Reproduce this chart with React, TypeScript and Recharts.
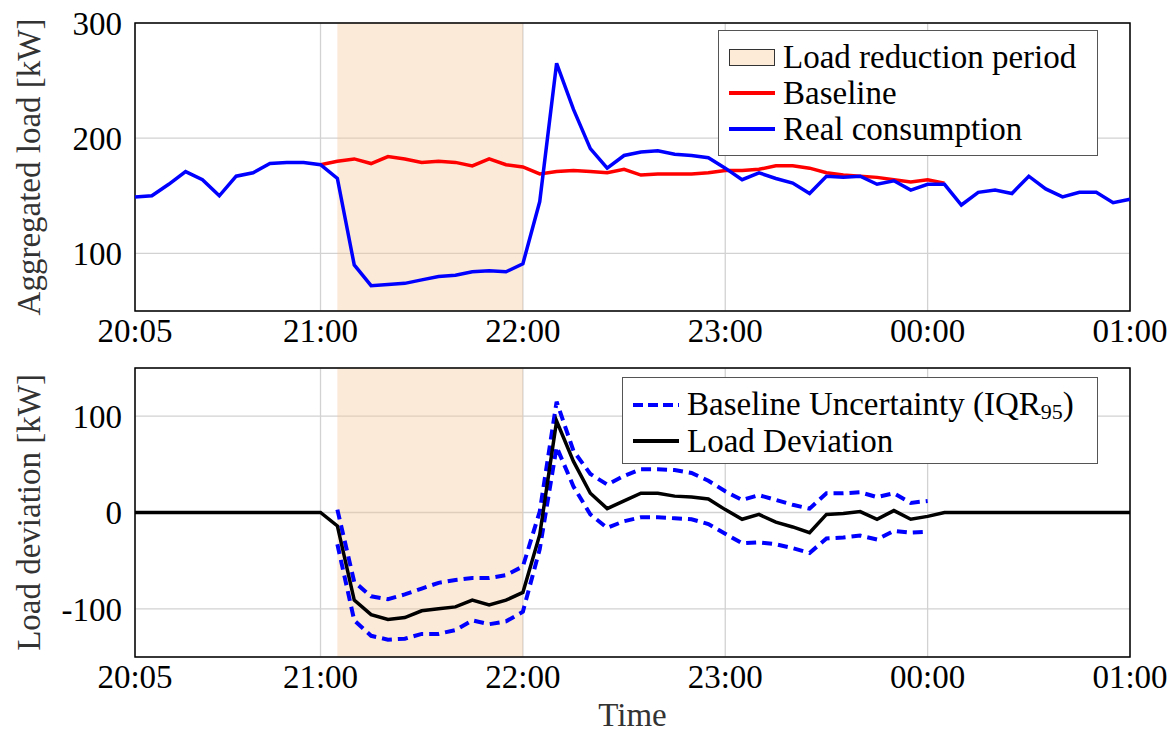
import React from 'react';
import {
  LineChart,
  Line,
  XAxis,
  YAxis,
  CartesianGrid,
  ReferenceArea,
} from 'recharts';

const FONT = '"Liberation Serif", "Times New Roman", serif';

// 5-minute steps, 20:05 -> 01:00
const times = [
  '20:05', '20:10', '20:15', '20:20', '20:25', '20:30', '20:35', '20:40', '20:45', '20:50', '20:55', '21:00',
  '21:05', '21:10', '21:15', '21:20', '21:25', '21:30', '21:35', '21:40', '21:45', '21:50', '21:55', '22:00',
  '22:05', '22:10', '22:15', '22:20', '22:25', '22:30', '22:35', '22:40', '22:45', '22:50', '22:55', '23:00',
  '23:05', '23:10', '23:15', '23:20', '23:25', '23:30', '23:35', '23:40', '23:45', '23:50', '23:55', '00:00',
  '00:05', '00:10', '00:15', '00:20', '00:25', '00:30', '00:35', '00:40', '00:45', '00:50', '00:55', '01:00',
];

const xTicks = ['20:05', '21:00', '22:00', '23:00', '00:00', '01:00'];
const topYTicks = [100, 200, 300];
const bottomYTicks = [-100, 0, 100];

const realConsumption = [
  149, 150, 160, 171, 164, 150, 167, 170, 178, 179, 179, 177,
  165, 90, 72, 73, 74, 77, 80, 81, 84, 85, 84, 91,
  145, 265, 225, 191, 174, 185, 188, 189, 186, 185, 183, 174,
  164, 170, 165, 161, 152, 167, 166, 167, 160, 163, 155, 160,
  160, 142, 153, 155, 152, 167, 156, 149, 153, 153, 144, 147,
];

const baseline = [
  null, null, null, null, null, null, null, null, null, null, null, 177,
  180, 182, 178, 184, 182, 179, 180, 179, 176, 182, 177, 175,
  169, 171, 172, 171, 170, 173, 168, 169, 169, 169, 170, 172,
  172, 173, 176, 176, 174, 170, 168, 167, 166, 164, 162, 164,
  161, null, null, null, null, null, null, null, null, null, null, null,
];

const loadDeviation = [
  0, 0, 0, 0, 0, 0, 0, 0, 0, 0, 0, 0,
  -14, -91, -106, -111, -109, -102, -100, -98, -91, -96, -91, -83,
  -23, 95, 53, 20, 4, 12, 20, 20, 17, 16, 14, 3,
  -7, -2, -10, -15, -21, -2, -1, 1, -7, 2, -7, -4,
  0, 0, 0, 0, 0, 0, 0, 0, 0, 0, 0, 0,
];

const iqrUpper = [
  null, null, null, null, null, null, null, null, null, null, null, null,
  3, -72, -87, -90, -85, -79, -73, -70, -68, -68, -65, -56,
  1, 115, 64, 40, 29, 38, 45, 45, 44, 41, 33, 22,
  13, 18, 13, 8, 4, 20, 20, 21, 16, 20, 10, 12,
  null, null, null, null, null, null, null, null, null, null, null, null,
];

const iqrLower = [
  null, null, null, null, null, null, null, null, null, null, null, null,
  -33, -112, -128, -132, -131, -126, -126, -122, -112, -116, -113, -103,
  -38, 68, 27, -2, -16, -9, -5, -5, -6, -7, -12, -22,
  -32, -31, -33, -37, -42, -27, -26, -24, -28, -19, -21, -20,
  null, null, null, null, null, null, null, null, null, null, null, null,
];

const reductionStart = '21:05';
const reductionEnd = '22:00';

const rows = times.map((t, i) => ({
  time: t,
  real: realConsumption[i],
  baseline: baseline[i],
  deviation: loadDeviation[i],
  upper: iqrUpper[i],
  lower: iqrLower[i],
}));

const tickStyle = { fill: '#000', fontSize: 33, fontFamily: FONT };
const labelStyle = { fill: '#333', fontSize: 33, fontFamily: FONT, textAnchor: 'middle' as const };
const gridColor = '#d2d2d2';
// semi-transparent so grid lines still show through the shaded band
const shadeFill = '#f8c99a';
const shadeOpacity = 0.38;

function LegendRow({ swatch, children }: { swatch: React.ReactNode; children: React.ReactNode }) {
  return (
    <div style={{ display: 'flex', alignItems: 'center', height: 36 }}>
      <div style={{ width: 54, display: 'flex', alignItems: 'center' }}>{swatch}</div>
      <div style={{ whiteSpace: 'nowrap' }}>{children}</div>
    </div>
  );
}

function lineSwatch(color: string, dash?: string) {
  return (
    <svg width={48} height={10}>
      <line x1={0} y1={5} x2={46} y2={5} stroke={color} strokeWidth={4} strokeDasharray={dash} />
    </svg>
  );
}

export default function App() {
  return (
    <div style={{ position: 'absolute', left: 0, top: 0, width: 1167, height: 734, background: '#fff' }}>
      <div style={{ position: 'absolute', left: 0, top: 0 }}>
        <LineChart width={1167} height={350} data={rows} margin={{ top: 23, right: 37, bottom: 0, left: 0 }}>
          <ReferenceArea x1={reductionStart} x2={reductionEnd} fill={shadeFill} fillOpacity={shadeOpacity} stroke="none" />
          <CartesianGrid stroke={gridColor} strokeWidth={1.3} />
          <XAxis
            dataKey="time"
            ticks={xTicks}
            interval={0}
            tick={tickStyle}
            axisLine={false}
            tickLine={false}
            tickMargin={2}
            height={39}
          />
          <YAxis
            domain={[50, 300]}
            ticks={topYTicks}
            tick={tickStyle}
            axisLine={false}
            tickLine={false}
            tickMargin={7}
            width={135}
            label={{ value: 'Aggregated load [kW]', angle: -90, position: 'insideLeft', offset: 28, style: labelStyle }}
          />
          <Line type="linear" dataKey="baseline" stroke="#ff0000" strokeWidth={3.5} dot={false} isAnimationActive={false} />
          <Line type="linear" dataKey="real" stroke="#0000ff" strokeWidth={3.5} dot={false} isAnimationActive={false} />
          <ReferenceArea x1="20:05" x2="01:00" y1={50} y2={300} fill="none" stroke="#000" strokeWidth={1.5} />
        </LineChart>
      </div>

      <div style={{ position: 'absolute', left: 0, top: 345 }}>
        <LineChart width={1167} height={389} data={rows} margin={{ top: 23, right: 37, bottom: 0, left: 0 }}>
          <ReferenceArea x1={reductionStart} x2={reductionEnd} fill={shadeFill} fillOpacity={shadeOpacity} stroke="none" />
          <CartesianGrid stroke={gridColor} strokeWidth={1.3} />
          <XAxis
            dataKey="time"
            ticks={xTicks}
            interval={0}
            tick={tickStyle}
            axisLine={false}
            tickLine={false}
            tickMargin={2}
            height={77}
            label={{ value: 'Time', position: 'insideBottom', offset: 8, style: labelStyle }}
          />
          <YAxis
            domain={[-150, 150]}
            ticks={bottomYTicks}
            tick={tickStyle}
            axisLine={false}
            tickLine={false}
            tickMargin={7}
            width={135}
            label={{ value: 'Load deviation [kW]', angle: -90, position: 'insideLeft', offset: 28, style: labelStyle }}
          />
          <Line type="linear" dataKey="upper" stroke="#0000ff" strokeWidth={4} strokeDasharray="10 6" dot={false} isAnimationActive={false} />
          <Line type="linear" dataKey="lower" stroke="#0000ff" strokeWidth={4} strokeDasharray="10 6" dot={false} isAnimationActive={false} />
          <Line type="linear" dataKey="deviation" stroke="#000" strokeWidth={3.5} dot={false} isAnimationActive={false} />
          <ReferenceArea x1="20:05" x2="01:00" y1={-150} y2={150} fill="none" stroke="#000" strokeWidth={1.5} />
        </LineChart>
      </div>

      {/* top legend */}
      <div
        style={{
          position: 'absolute', left: 718, top: 30, width: 380, height: 126, boxSizing: 'border-box',
          border: '1.5px solid #555', background: '#fff', fontFamily: FONT, fontSize: 33, color: '#000',
          padding: '8px 0 0 10px',
        }}
      >
        <LegendRow swatch={<div style={{ width: 44, height: 15, background: '#fdebd8', border: '1.5px solid #333' }} />}>
          Load reduction period
        </LegendRow>
        <LegendRow swatch={lineSwatch('#ff0000')}>Baseline</LegendRow>
        <LegendRow swatch={lineSwatch('#0000ff')}>Real consumption</LegendRow>
      </div>

      {/* bottom legend */}
      <div
        style={{
          position: 'absolute', left: 622, top: 377, width: 476, height: 87, boxSizing: 'border-box',
          border: '1.5px solid #555', background: '#fff', fontFamily: FONT, fontSize: 33, color: '#000',
          padding: '9px 0 0 10px',
        }}
      >
        <LegendRow swatch={lineSwatch('#0000ff', '10 5')}>
          Baseline Uncertainty (IQR<sub style={{ fontSize: 22, verticalAlign: '-4px' }}>95</sub>)
        </LegendRow>
        <LegendRow swatch={lineSwatch('#000')}>Load Deviation</LegendRow>
      </div>
    </div>
  );
}
